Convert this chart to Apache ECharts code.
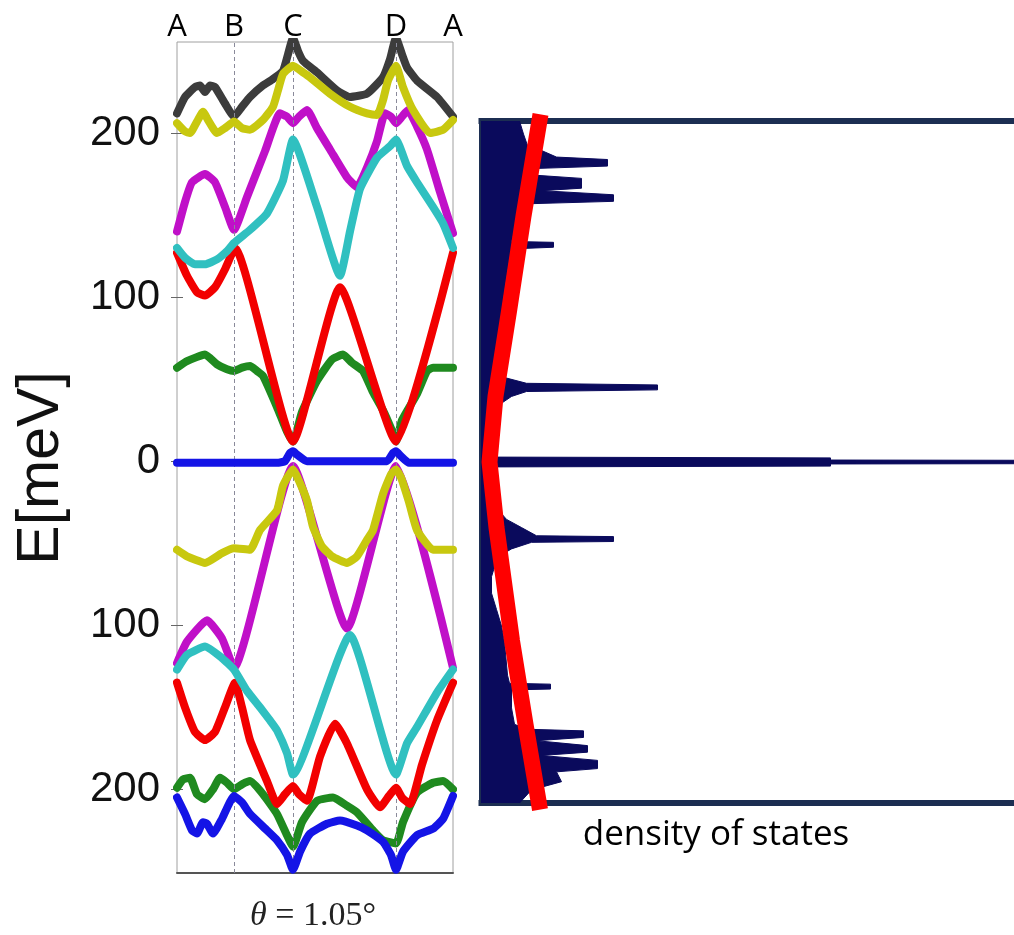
<!DOCTYPE html>
<html>
<head>
<meta charset="utf-8">
<script src="https://cdn.jsdelivr.net/npm/echarts@6/dist/echarts.min.js"></script>
<style>
html,body{margin:0;padding:0;background:#fff;overflow:hidden;}
#chart{width:1014px;height:935px;}
</style>
</head>
<body>
<div id="chart"></div>
<script>
// ---- k-path (arbitrary path units) ----
var kPoints = [0, 57, 116, 219, 276];
var kLabels = ['A', 'B', 'C', 'D', 'A'];
var yTickValues = [-200, -100, 0, 100, 200];
var yTickLabels = ['200', '100', '0', '100', '200'];

// ---- bands: [k, E(meV)] ----
var grayTop = [[0,212],[8,222],[18,228],[23,229],[28,225],[33,229],[38,228],[48,218],[57,210],[65,216],[73,222],[86,229],[96,233],[106,238],[111,248],[116,258],[121,250],[126,244],[140,237],[160,226],[173,222],[190,224],[206,234],[213,245],[219,258],[225,248],[230,240],[240,232],[260,222],[276,210]];
var yellowTop = [[0,206],[8,201],[13,200],[20,207],[26,213],[31,208],[40,200],[48,203],[57,207],[65,203],[73,202],[86,208],[96,216],[101,226],[106,236],[116,241],[126,237],[133,234],[153,224],[173,216],[190,212],[200,211],[206,220],[211,232],[219,241],[226,228],[236,214],[253,200],[266,202],[276,208]];
var magentaTop = [[0,140],[8,158],[15,170],[28,175],[38,170],[48,155],[57,141],[70,161],[88,189],[103,212],[110,210],[116,206],[122,210],[130,214],[140,203],[153,190],[170,173],[180,167],[190,179],[200,195],[208,212],[214,210],[219,206],[225,210],[231,214],[240,204],[250,190],[263,164],[276,139]];
var cyanTop = [[0,130],[8,124],[18,120],[28,120],[40,123],[50,128],[57,133],[73,141],[90,151],[106,171],[116,196],[140,155],[163,113],[173,140],[183,166],[200,185],[213,192],[219,196],[230,180],[240,170],[256,155],[266,145],[276,130]];
var redTop = [[0,127],[10,113],[20,103],[28,101],[38,106],[48,117],[58,130],[116,12],[163,106],[219,12],[276,127]];
var greenTop = [[0,57],[10,61],[28,65],[40,59],[50,56],[57,55],[65,57],[73,58],[80,55],[86,52],[100,33],[110,18],[116,12],[125,30],[140,49],[155,62],[166,65],[175,60],[186,55],[196,42],[206,31],[214,20],[219,12],[225,25],[240,41],[250,55],[256,57],[266,57],[276,57]];
var blueZero = [[0,-1],[100,-1],[108,0],[113,5],[116,6],[120,4],[130,0],[210,0],[216,5],[219,6],[224,3],[232,-1],[276,-1]];
var yellowLow = [[0,-54],[10,-58],[28,-62],[45,-56],[57,-53],[73,-54],[83,-42],[100,-30],[106,-15],[116,-5],[122,-12],[130,-24],[136,-40],[145,-52],[155,-58],[170,-62],[180,-58],[190,-48],[196,-42],[206,-20],[214,-8],[219,-5],[224,-10],[232,-25],[240,-42],[256,-54],[276,-54]];
var magentaLow = [[0,-123],[10,-110],[30,-97],[45,-108],[57,-126],[116,-3],[170,-102],[219,-3],[276,-126]];
var cyanLow = [[0,-127],[10,-118],[28,-113],[45,-120],[57,-127],[70,-140],[83,-150],[93,-158],[100,-164],[110,-178],[116,-191],[173,-106],[219,-191],[230,-172],[240,-162],[260,-141],[276,-127]];
var redLow = [[0,-135],[8,-150],[18,-165],[28,-170],[38,-165],[48,-150],[58,-135],[65,-150],[73,-170],[90,-195],[100,-209],[108,-203],[116,-198],[122,-203],[130,-207],[143,-180],[158,-160],[170,-172],[190,-200],[203,-211],[212,-204],[219,-199],[225,-205],[233,-209],[245,-185],[260,-158],[276,-135]];
var greenLow = [[0,-199],[6,-194],[13,-193],[20,-203],[28,-206],[36,-200],[43,-193],[50,-196],[57,-200],[65,-197],[73,-195],[86,-203],[100,-215],[110,-228],[116,-235],[125,-220],[140,-207],[156,-205],[170,-210],[180,-214],[196,-225],[206,-231],[219,-233],[226,-220],[240,-202],[256,-196],[266,-195],[276,-200]];
var blueLow = [[0,-205],[8,-215],[15,-225],[20,-227],[26,-220],[30,-221],[36,-227],[45,-218],[57,-204],[65,-208],[73,-215],[90,-225],[100,-231],[110,-240],[116,-249],[123,-238],[133,-227],[150,-221],[163,-219],[180,-222],[190,-225],[206,-232],[214,-240],[219,-249],[226,-238],[240,-228],[256,-224],[266,-218],[276,-204]];

// ---- density of states: [E(meV), DOS(arb.)] ----
var dosProfile = [[208,38],[200,42],[193,46],[190,60],[186,75],[184.5,126],[180.5,126],[179,52],[175,52],[173,100],[167,100],[165.5,60],[163,132],[159,132],[157.5,46],[152,38],[146,35],[134.5,30],[134,72],[131,72],[130,30],[120,27],[100,22],[80,19],[60,16],[52,20],[48,45],[47,176],[44,176],[43,45],[40,30],[35,18],[30,13],[20,9],[10,7],[3,6],[2.5,349],[1.2,349],[1,600],[-1,600],[-1.2,349],[-2.5,349],[-3,6],[-10,7],[-20,10],[-28,15],[-35,25],[-40,40],[-45,55],[-45.5,132],[-48.5,132],[-49,50],[-53,30],[-58,16],[-70,10],[-80,10],[-90,15],[-100,20],[-110,23],[-130,26],[-135,28],[-135.5,69],[-138.5,69],[-139,30],[-150,30],[-160,33],[-163,45],[-164,102],[-168,102],[-170,55],[-173,106],[-177,106],[-179,60],[-182,116],[-187,116],[-189,75],[-195,80],[-200,50],[-208,38]];
var dosLinear = [[212,59],[150,42],[92,27.5],[40,14],[0,8],[-40,15],[-109,30.5],[-160,44],[-212,58.5]];

var chart = echarts.init(document.getElementById('chart'), null, {renderer: 'canvas'});

function band(data, color, z) {
  return {
    type: 'line', xAxisIndex: 0, yAxisIndex: 0, data: data,
    showSymbol: false, smooth: 0.15, clip: true, z: z, silent: true,
    lineStyle: {color: color, width: 8, cap: 'round', join: 'round'}
  };
}

var dosXY = dosProfile.map(function (p) { return [p[1], p[0]]; });
var linXY = dosLinear.map(function (p) { return [p[1], p[0]]; });
var frameLine = {show: true, onZero: false, lineStyle: {color: '#1c2e52', width: 6, cap: 'square'}};

var option = {
  animation: false,
  backgroundColor: '#fff',
  grid: [
    {left: 177, top: 42, width: 276, height: 831, show: true, borderColor: '#a0a0a0', borderWidth: 1, backgroundColor: 'transparent'},
    {left: 481.5, top: 121, right: 0, height: 682, show: false}
  ],
  xAxis: [
    {type: 'value', gridIndex: 0, position: 'bottom', min: 0, max: 276,
      axisLine: {show: true, onZero: false, lineStyle: {color: '#555', width: 2}},
      axisTick: {show: false}, axisLabel: {show: false}, splitLine: {show: false}},
    {type: 'value', gridIndex: 0, position: 'top', min: 0, max: 276,
      axisLine: {show: false}, axisTick: {show: false}, splitLine: {show: false},
      axisLabel: {show: true, customValues: kPoints, margin: -1,
        fontFamily: 'Open Sans', fontSize: 31, color: '#000',
        formatter: function (v) { var i = kPoints.indexOf(v); return i >= 0 ? kLabels[i] : ''; }}},
    {type: 'value', gridIndex: 1, position: 'bottom', min: 0, max: 532.5,
      axisLine: frameLine, axisTick: {show: false}, axisLabel: {show: false}, splitLine: {show: false}},
    {type: 'value', gridIndex: 1, position: 'top', min: 0, max: 532.5,
      axisLine: frameLine, axisTick: {show: false}, axisLabel: {show: false}, splitLine: {show: false}}
  ],
  yAxis: [
    {type: 'value', gridIndex: 0, position: 'left', min: -251, max: 255.5,
      axisLine: {show: false}, splitLine: {show: false},
      axisTick: {show: true, inside: true, length: 6, customValues: yTickValues, lineStyle: {color: '#666', width: 1}},
      axisLabel: {show: true, customValues: yTickValues, margin: 17, fontFamily: 'Liberation Sans', fontSize: 42, color: '#111',
        formatter: function (v) { var i = yTickValues.indexOf(v); return i >= 0 ? yTickLabels[i] : ''; }}},
    {type: 'value', gridIndex: 0, position: 'right', min: -251, max: 255.5,
      axisLine: {show: false}, splitLine: {show: false}, axisLabel: {show: false},
      axisTick: {show: true, inside: true, length: 6, customValues: yTickValues, lineStyle: {color: '#666', width: 1}}},
    {type: 'value', gridIndex: 1, position: 'left', min: -208, max: 208,
      axisLine: frameLine, axisTick: {show: false}, axisLabel: {show: false}, splitLine: {show: false}}
  ],
  series: [
    {type: 'line', xAxisIndex: 0, yAxisIndex: 0, data: [], z: 1, silent: true,
      markLine: {silent: true, symbol: 'none', label: {show: false},
        lineStyle: {color: '#8a8a9a', type: [4, 3], width: 1},
        data: kPoints.slice(1, 4).map(function (k) { return {xAxis: k}; })}},
    band(grayTop, '#3c3c3c', 2),
    band(magentaTop, '#c010c8', 3),
    band(magentaLow, '#c010c8', 3),
    band(greenTop, '#1f8a1f', 4),
    band(greenLow, '#1f8a1f', 4),
    band(redTop, '#f20000', 5),
    band(redLow, '#f20000', 5),
    band(cyanTop, '#30c0c0', 6),
    band(cyanLow, '#30c0c0', 6),
    band(yellowTop, '#c8c80f', 7),
    band(yellowLow, '#c8c80f', 7),
    band(blueLow, '#1414e6', 8),
    band(blueZero, '#1414e6', 9),
    {type: 'custom', xAxisIndex: 2, yAxisIndex: 2, data: dosXY, z: 2, silent: true, clip: true,
      renderItem: function (params, api) {
        if (params.dataIndex !== 0) return null;
        var pts = [api.coord([0, dosXY[0][1]])];
        for (var i = 0; i < dosXY.length; i++) pts.push(api.coord(dosXY[i]));
        pts.push(api.coord([0, dosXY[dosXY.length - 1][1]]));
        return {type: 'polygon', shape: {points: pts}, style: {fill: '#0a0a5c', stroke: '#0a0a5c', lineWidth: 1}};
      }},
    {type: 'line', xAxisIndex: 2, yAxisIndex: 2, data: linXY, showSymbol: false, smooth: false, z: 5, silent: true, clip: true,
      lineStyle: {color: '#ff0000', width: 16, join: 'round'}}
  ],
  graphic: [
    {type: 'text', x: 42, y: 468, rotation: Math.PI / 2, z: 100,
      style: {text: 'E[meV]', fontFamily: 'Liberation Sans', fontSize: 59, fill: '#111', align: 'center', verticalAlign: 'middle'}},
    {type: 'text', x: 313, y: 916, z: 100,
      style: {text: '{i|θ} = 1.05°', align: 'center', verticalAlign: 'middle', fill: '#222',
        rich: {i: {fontFamily: 'Liberation Serif', fontStyle: 'italic', fontSize: 34, fill: '#222'}},
        fontFamily: 'Liberation Serif', fontSize: 34}},
    {type: 'text', x: 716, y: 835, z: 100,
      style: {text: 'density of states', fontFamily: 'Open Sans', fontSize: 35, fill: '#000', align: 'center', verticalAlign: 'middle'}}
  ]
};
chart.setOption(option);
</script>
</body>
</html>
